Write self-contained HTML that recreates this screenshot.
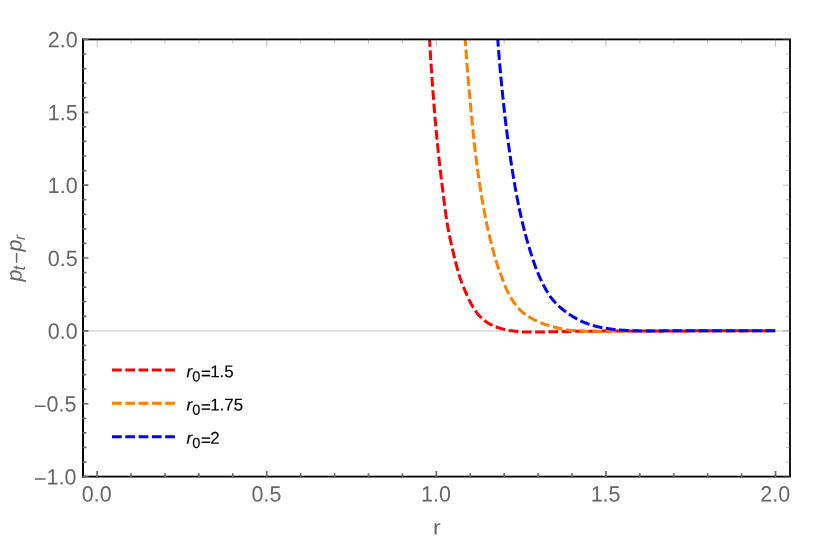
<!DOCTYPE html>
<html><head><meta charset="utf-8"><title>plot</title>
<style>
html,body{margin:0;padding:0;background:#fff;}
body{width:830px;height:540px;overflow:hidden;font-family:"Liberation Sans",sans-serif;}
svg{display:block;will-change:transform;}
text{font-family:"Liberation Sans",sans-serif;}
</style></head><body>
<svg width="830" height="540" viewBox="0 0 830 540">
<rect x="0" y="0" width="830" height="540" fill="#ffffff"/>
<defs><clipPath id="cp"><rect x="83.00" y="39.40" width="707.00" height="437.20"/></clipPath></defs>

<line x1="83.0" y1="330.87" x2="790.0" y2="330.87" stroke="#d0d0d0" stroke-width="1.3"/>
<g clip-path="url(#cp)" fill="none" stroke-width="3" stroke-linecap="butt" stroke-linejoin="round">
<path d="M775.20,330.87 L773.74,330.87 L772.27,330.87 L770.81,330.87 L769.35,330.87 L767.89,330.87 L766.42,330.87 L764.96,330.87 L763.50,330.87 L762.04,330.87 L760.57,330.87 L759.11,330.87 L757.65,330.87 L756.19,330.87 L754.72,330.87 L753.26,330.87 L751.80,330.87 L750.34,330.87 L748.87,330.87 L747.41,330.87 L745.95,330.87 L744.48,330.87 L743.02,330.87 L741.56,330.87 L740.10,330.87 L738.63,330.87 L737.17,330.87 L735.71,330.87 L734.25,330.87 L732.78,330.87 L731.32,330.87 L729.86,330.87 L728.40,330.87 L726.93,330.87 L725.47,330.87 L724.01,330.87 L722.55,330.87 L721.08,330.87 L719.62,330.87 L718.16,330.87 L716.70,330.87 L715.23,330.87 L713.77,330.87 L712.31,330.87 L710.84,330.87 L709.38,330.87 L707.92,330.87 L706.46,330.87 L704.99,330.87 L703.53,330.87 L702.07,330.87 L700.61,330.87 L699.14,330.87 L697.68,330.87 L696.22,330.87 L694.76,330.87 L693.29,330.87 L691.83,330.87 L690.37,330.87 L688.91,330.87 L687.44,330.88 L685.98,330.88 L684.52,330.88 L683.05,330.88 L681.59,330.88 L680.13,330.88 L678.67,330.89 L677.20,330.89 L675.74,330.89 L674.28,330.89 L672.82,330.90 L671.35,330.90 L669.89,330.90 L668.43,330.90 L666.97,330.91 L665.50,330.91 L664.04,330.91 L662.58,330.92 L661.12,330.92 L659.65,330.92 L658.19,330.93 L656.73,330.93 L655.27,330.93 L653.80,330.94 L652.34,330.94 L650.88,330.94 L649.41,330.95 L647.95,330.95 L646.49,330.96 L645.03,330.96 L643.56,330.96 L642.10,330.97 L640.64,330.97 L639.18,330.97 L637.71,330.98 L636.25,330.98 L634.79,330.99 L633.33,330.99 L631.86,330.99 L630.40,331.00 L628.94,331.00 L627.48,331.01 L626.01,331.01 L624.55,331.02 L623.09,331.02 L621.62,331.03 L620.16,331.03 L618.70,331.04 L617.24,331.04 L615.77,331.05 L614.31,331.05 L612.85,331.06 L611.39,331.06 L609.92,331.07 L608.46,331.08 L607.00,331.08 L605.54,331.09 L604.07,331.10 L602.61,331.10 L601.15,331.11 L599.69,331.12 L598.22,331.13 L596.76,331.14 L595.30,331.15 L593.84,331.15 L592.37,331.16 L590.91,331.17 L589.45,331.18 L587.99,331.19 L586.52,331.20 L585.06,331.22 L583.60,331.23 L582.13,331.24 L580.67,331.26 L579.21,331.27 L577.75,331.29 L576.28,331.31 L574.82,331.33 L573.36,331.35 L571.90,331.37 L570.43,331.39 L568.97,331.41 L567.51,331.44 L566.05,331.46 L564.58,331.48 L563.12,331.51 L561.66,331.53 L560.20,331.56 L558.74,331.59 L557.27,331.62 L555.81,331.66 L554.35,331.69 L552.89,331.73 L551.42,331.78 L549.96,331.84 L548.50,331.90 L547.04,331.96 L545.58,332.01 L544.12,332.05 L542.65,332.08 L541.19,332.10 L539.73,332.10 L538.27,332.10 L536.80,332.10 L535.34,332.10 L533.88,332.10 L532.41,332.10 L530.95,332.10 L529.49,332.10 L528.03,332.10 L526.57,332.09 L525.10,332.06 L523.64,331.99 L522.18,331.90 L520.72,331.78 L519.26,331.65 L517.80,331.50 L516.34,331.35 L514.89,331.19 L513.45,331.02 L512.00,330.83 L510.55,330.61 L509.10,330.36 L507.65,330.08 L506.21,329.78 L504.78,329.45 L503.36,329.10 L501.95,328.74 L500.55,328.36 L499.16,327.94 L497.77,327.48 L496.38,326.97 L494.99,326.43 L493.63,325.84 L492.28,325.22 L490.96,324.57 L489.67,323.89 L488.43,323.19 L487.21,322.45 L486.01,321.64 L484.83,320.77 L483.67,319.84 L482.53,318.86 L481.44,317.85 L480.38,316.81 L479.37,315.76 L478.40,314.69 L477.48,313.59 L476.60,312.45 L475.74,311.27 L474.90,310.05 L474.10,308.81 L473.32,307.54 L472.56,306.27 L471.83,305.00 L471.11,303.72 L470.42,302.45 L469.75,301.15 L469.10,299.84 L468.47,298.52 L467.86,297.19 L467.26,295.85 L466.66,294.51 L466.08,293.16 L465.51,291.81 L464.93,290.47 L464.36,289.12 L463.79,287.77 L463.23,286.42 L462.68,285.06 L462.14,283.70 L461.61,282.34 L461.10,280.96 L460.61,279.59 L460.13,278.21 L459.68,276.82 L459.25,275.43 L458.83,274.03 L458.42,272.62 L458.02,271.21 L457.63,269.80 L457.26,268.39 L456.88,266.97 L456.52,265.55 L456.16,264.13 L455.80,262.72 L455.45,261.30 L455.09,259.88 L454.74,258.46 L454.39,257.04 L454.04,255.62 L453.69,254.20 L453.35,252.77 L453.00,251.35 L452.67,249.93 L452.33,248.50 L452.00,247.07 L451.67,245.65 L451.34,244.22 L451.02,242.79 L450.70,241.36 L450.39,239.93 L450.09,238.50 L449.79,237.07 L449.49,235.63 L449.20,234.20 L448.92,232.76 L448.64,231.33 L448.37,229.89 L448.10,228.46 L447.85,227.02 L447.60,225.58 L447.36,224.14 L447.12,222.70 L446.89,221.26 L446.66,219.82 L446.44,218.37 L446.23,216.93 L446.01,215.48 L445.81,214.03 L445.60,212.59 L445.40,211.14 L445.20,209.69 L445.01,208.24 L444.82,206.79 L444.63,205.33 L444.44,203.88 L444.25,202.43 L444.07,200.98 L443.89,199.52 L443.71,198.07 L443.53,196.62 L443.35,195.17 L443.17,193.71 L442.99,192.26 L442.81,190.81 L442.63,189.36 L442.45,187.90 L442.27,186.45 L442.09,185.00 L441.91,183.55 L441.73,182.10 L441.56,180.65 L441.38,179.20 L441.21,177.74 L441.03,176.29 L440.86,174.84 L440.69,173.39 L440.52,171.93 L440.35,170.48 L440.18,169.03 L440.01,167.57 L439.85,166.12 L439.68,164.67 L439.52,163.21 L439.36,161.76 L439.20,160.31 L439.04,158.85 L438.88,157.40 L438.72,155.94 L438.57,154.49 L438.41,153.03 L438.26,151.58 L438.11,150.12 L437.96,148.67 L437.82,147.22 L437.67,145.76 L437.52,144.30 L437.38,142.85 L437.23,141.39 L437.09,139.94 L436.95,138.48 L436.80,137.03 L436.66,135.57 L436.52,134.11 L436.38,132.66 L436.25,131.20 L436.11,129.75 L435.98,128.29 L435.84,126.83 L435.71,125.38 L435.58,123.92 L435.45,122.46 L435.32,121.00 L435.19,119.55 L435.07,118.09 L434.94,116.63 L434.82,115.18 L434.70,113.72 L434.58,112.26 L434.46,110.80 L434.35,109.35 L434.23,107.89 L434.12,106.43 L434.00,104.97 L433.89,103.51 L433.78,102.06 L433.66,100.60 L433.55,99.14 L433.44,97.68 L433.33,96.22 L433.22,94.77 L433.11,93.31 L433.00,91.85 L432.89,90.39 L432.78,88.93 L432.67,87.47 L432.57,86.01 L432.46,84.56 L432.35,83.10 L432.25,81.64 L432.15,80.18 L432.04,78.72 L431.94,77.26 L431.84,75.80 L431.74,74.34 L431.64,72.88 L431.54,71.42 L431.44,69.96 L431.34,68.51 L431.25,67.05 L431.15,65.59 L431.06,64.13 L430.96,62.67 L430.87,61.21 L430.78,59.75 L430.69,58.29 L430.60,56.83 L430.51,55.37 L430.42,53.91 L430.33,52.45 L430.25,50.99 L430.16,49.53 L430.08,48.06 L430.00,46.60 L429.91,45.14 L429.83,43.68 L429.76,42.22 L429.68,40.76 L429.60,39.30 L428.81,24.32" stroke="#ff0000" stroke-dasharray="9.751 3.550" stroke-dashoffset="9.10"/>
<path d="M775.20,330.87 L773.85,330.87 L772.50,330.87 L771.15,330.87 L769.80,330.87 L768.44,330.87 L767.09,330.87 L765.74,330.87 L764.39,330.87 L763.04,330.87 L761.69,330.87 L760.34,330.87 L758.99,330.87 L757.64,330.87 L756.29,330.87 L754.93,330.87 L753.58,330.87 L752.23,330.87 L750.88,330.87 L749.53,330.87 L748.18,330.87 L746.83,330.87 L745.48,330.87 L744.13,330.87 L742.78,330.87 L741.42,330.87 L740.07,330.87 L738.72,330.87 L737.37,330.87 L736.02,330.87 L734.67,330.88 L733.32,330.88 L731.97,330.88 L730.62,330.88 L729.26,330.88 L727.91,330.88 L726.56,330.88 L725.21,330.88 L723.86,330.88 L722.51,330.88 L721.16,330.88 L719.81,330.88 L718.46,330.88 L717.11,330.88 L715.75,330.88 L714.40,330.88 L713.05,330.88 L711.70,330.88 L710.35,330.88 L709.00,330.88 L707.65,330.88 L706.30,330.89 L704.95,330.89 L703.60,330.89 L702.24,330.89 L700.89,330.89 L699.54,330.89 L698.19,330.89 L696.84,330.89 L695.49,330.89 L694.14,330.89 L692.79,330.89 L691.44,330.89 L690.09,330.89 L688.73,330.89 L687.38,330.90 L686.03,330.90 L684.68,330.90 L683.33,330.90 L681.98,330.90 L680.63,330.90 L679.28,330.90 L677.93,330.90 L676.58,330.90 L675.22,330.91 L673.87,330.91 L672.52,330.91 L671.17,330.92 L669.82,330.92 L668.47,330.93 L667.12,330.94 L665.77,330.94 L664.42,330.95 L663.06,330.96 L661.71,330.97 L660.36,330.97 L659.01,330.98 L657.66,330.99 L656.31,331.00 L654.96,331.01 L653.61,331.02 L652.26,331.03 L650.91,331.04 L649.56,331.05 L648.20,331.06 L646.85,331.07 L645.50,331.09 L644.15,331.10 L642.80,331.11 L641.45,331.12 L640.10,331.13 L638.75,331.14 L637.40,331.15 L636.05,331.16 L634.69,331.18 L633.34,331.19 L631.99,331.20 L630.64,331.21 L629.29,331.22 L627.94,331.23 L626.59,331.24 L625.24,331.25 L623.89,331.26 L622.54,331.27 L621.18,331.28 L619.83,331.29 L618.48,331.30 L617.13,331.31 L615.78,331.32 L614.43,331.33 L613.08,331.34 L611.73,331.35 L610.38,331.36 L609.03,331.37 L607.67,331.38 L606.32,331.39 L604.97,331.40 L603.62,331.40 L602.27,331.40 L600.92,331.40 L599.57,331.39 L598.22,331.38 L596.87,331.37 L595.51,331.35 L594.16,331.33 L592.81,331.31 L591.46,331.29 L590.11,331.26 L588.76,331.24 L587.41,331.21 L586.06,331.18 L584.71,331.14 L583.36,331.10 L582.00,331.05 L580.65,330.99 L579.30,330.93 L577.95,330.85 L576.60,330.78 L575.25,330.69 L573.90,330.60 L572.56,330.50 L571.22,330.39 L569.88,330.26 L568.54,330.09 L567.21,329.89 L565.87,329.65 L564.54,329.40 L563.21,329.13 L561.89,328.85 L560.56,328.55 L559.24,328.26 L557.93,327.97 L556.61,327.67 L555.30,327.35 L553.98,327.02 L552.67,326.68 L551.37,326.32 L550.07,325.94 L548.77,325.55 L547.48,325.15 L546.20,324.73 L544.93,324.31 L543.65,323.86 L542.39,323.39 L541.12,322.90 L539.86,322.38 L538.61,321.85 L537.37,321.30 L536.14,320.72 L534.93,320.13 L533.73,319.53 L532.55,318.90 L531.37,318.25 L530.19,317.57 L529.02,316.86 L527.86,316.13 L526.72,315.37 L525.60,314.59 L524.51,313.79 L523.46,312.96 L522.44,312.11 L521.46,311.23 L520.49,310.31 L519.55,309.34 L518.62,308.34 L517.72,307.32 L516.84,306.26 L515.99,305.19 L515.16,304.10 L514.36,303.01 L513.58,301.91 L512.83,300.81 L512.10,299.68 L511.39,298.53 L510.70,297.37 L510.03,296.19 L509.38,294.99 L508.75,293.79 L508.13,292.58 L507.53,291.36 L506.95,290.14 L506.39,288.92 L505.85,287.69 L505.33,286.45 L504.83,285.19 L504.34,283.93 L503.85,282.67 L503.38,281.40 L502.91,280.13 L502.45,278.86 L501.98,277.59 L501.51,276.32 L501.03,275.05 L500.55,273.79 L500.07,272.53 L499.59,271.26 L499.11,269.99 L498.65,268.72 L498.19,267.45 L497.74,266.18 L497.31,264.90 L496.89,263.62 L496.49,262.33 L496.10,261.04 L495.72,259.75 L495.33,258.46 L494.96,257.16 L494.58,255.86 L494.22,254.57 L493.85,253.26 L493.49,251.96 L493.14,250.66 L492.79,249.35 L492.44,248.04 L492.10,246.73 L491.76,245.42 L491.43,244.11 L491.10,242.80 L490.77,241.49 L490.45,240.17 L490.13,238.85 L489.81,237.54 L489.50,236.22 L489.20,234.90 L488.89,233.59 L488.59,232.27 L488.30,230.95 L488.00,229.63 L487.71,228.31 L487.43,226.99 L487.14,225.67 L486.86,224.35 L486.59,223.03 L486.31,221.71 L486.04,220.39 L485.77,219.07 L485.51,217.74 L485.25,216.42 L484.99,215.09 L484.73,213.76 L484.48,212.44 L484.23,211.11 L483.98,209.78 L483.73,208.45 L483.49,207.12 L483.25,205.79 L483.01,204.46 L482.78,203.13 L482.55,201.79 L482.32,200.46 L482.09,199.13 L481.86,197.80 L481.64,196.46 L481.42,195.13 L481.20,193.79 L480.99,192.46 L480.77,191.13 L480.56,189.79 L480.35,188.46 L480.14,187.12 L479.94,185.79 L479.73,184.46 L479.53,183.12 L479.33,181.78 L479.13,180.45 L478.93,179.11 L478.74,177.77 L478.55,176.44 L478.36,175.10 L478.17,173.76 L477.98,172.42 L477.79,171.08 L477.61,169.75 L477.43,168.41 L477.25,167.07 L477.07,165.73 L476.89,164.39 L476.72,163.05 L476.54,161.71 L476.37,160.37 L476.20,159.03 L476.03,157.69 L475.87,156.34 L475.70,155.00 L475.54,153.66 L475.38,152.32 L475.22,150.98 L475.06,149.64 L474.90,148.30 L474.75,146.96 L474.59,145.61 L474.44,144.27 L474.29,142.93 L474.14,141.59 L473.99,140.24 L473.84,138.90 L473.70,137.56 L473.55,136.21 L473.41,134.87 L473.27,133.53 L473.13,132.18 L472.99,130.84 L472.85,129.49 L472.71,128.15 L472.58,126.81 L472.44,125.46 L472.31,124.12 L472.17,122.77 L472.04,121.43 L471.91,120.08 L471.78,118.74 L471.65,117.39 L471.53,116.05 L471.40,114.70 L471.27,113.36 L471.15,112.01 L471.02,110.67 L470.90,109.32 L470.78,107.98 L470.65,106.63 L470.53,105.29 L470.41,103.94 L470.28,102.60 L470.16,101.25 L470.04,99.91 L469.92,98.56 L469.80,97.21 L469.68,95.87 L469.56,94.52 L469.44,93.18 L469.32,91.83 L469.21,90.49 L469.09,89.14 L468.97,87.79 L468.85,86.45 L468.74,85.10 L468.62,83.76 L468.51,82.41 L468.39,81.06 L468.28,79.72 L468.17,78.37 L468.06,77.03 L467.94,75.68 L467.83,74.33 L467.72,72.99 L467.61,71.64 L467.50,70.29 L467.40,68.95 L467.29,67.60 L467.18,66.25 L467.07,64.90 L466.97,63.56 L466.86,62.21 L466.76,60.86 L466.66,59.52 L466.55,58.17 L466.45,56.82 L466.35,55.47 L466.25,54.13 L466.15,52.78 L466.05,51.43 L465.95,50.08 L465.86,48.74 L465.76,47.39 L465.66,46.04 L465.57,44.69 L465.48,43.34 L465.38,42.00 L465.29,40.65 L465.20,39.30 L464.19,24.33" stroke="#ff8000" stroke-dasharray="9.757 3.552" stroke-dashoffset="0.00"/>
<path d="M775.20,330.87 L773.95,330.87 L772.70,330.87 L771.44,330.87 L770.19,330.87 L768.94,330.87 L767.69,330.87 L766.44,330.87 L765.18,330.87 L763.93,330.87 L762.68,330.87 L761.43,330.87 L760.18,330.87 L758.92,330.87 L757.67,330.87 L756.42,330.87 L755.17,330.87 L753.92,330.87 L752.66,330.87 L751.41,330.87 L750.16,330.87 L748.91,330.87 L747.66,330.87 L746.41,330.87 L745.15,330.87 L743.90,330.87 L742.65,330.87 L741.40,330.87 L740.15,330.87 L738.89,330.87 L737.64,330.87 L736.39,330.87 L735.14,330.87 L733.89,330.87 L732.63,330.87 L731.38,330.87 L730.13,330.87 L728.88,330.87 L727.63,330.87 L726.37,330.87 L725.12,330.87 L723.87,330.87 L722.62,330.87 L721.37,330.87 L720.11,330.87 L718.86,330.87 L717.61,330.87 L716.36,330.87 L715.11,330.87 L713.85,330.87 L712.60,330.87 L711.35,330.87 L710.10,330.87 L708.85,330.87 L707.59,330.87 L706.34,330.87 L705.09,330.87 L703.84,330.87 L702.59,330.87 L701.33,330.87 L700.08,330.87 L698.83,330.87 L697.58,330.87 L696.33,330.87 L695.07,330.87 L693.82,330.87 L692.57,330.87 L691.32,330.87 L690.07,330.87 L688.82,330.87 L687.56,330.87 L686.31,330.87 L685.06,330.87 L683.81,330.87 L682.56,330.87 L681.30,330.87 L680.05,330.87 L678.80,330.87 L677.55,330.87 L676.30,330.87 L675.04,330.87 L673.79,330.87 L672.54,330.87 L671.29,330.87 L670.04,330.87 L668.78,330.87 L667.53,330.87 L666.28,330.87 L665.03,330.87 L663.78,330.87 L662.52,330.88 L661.27,330.88 L660.02,330.88 L658.77,330.88 L657.52,330.88 L656.26,330.88 L655.01,330.89 L653.76,330.89 L652.51,330.89 L651.26,330.89 L650.00,330.89 L648.75,330.90 L647.50,330.90 L646.25,330.90 L645.00,330.90 L643.74,330.90 L642.49,330.90 L641.24,330.90 L639.99,330.89 L638.74,330.87 L637.49,330.85 L636.23,330.82 L634.98,330.78 L633.73,330.73 L632.48,330.69 L631.23,330.63 L629.98,330.58 L628.72,330.52 L627.47,330.46 L626.23,330.41 L624.98,330.34 L623.73,330.27 L622.48,330.19 L621.23,330.10 L619.98,330.00 L618.73,329.89 L617.48,329.78 L616.23,329.65 L614.99,329.53 L613.74,329.39 L612.50,329.26 L611.26,329.11 L610.02,328.96 L608.78,328.79 L607.54,328.60 L606.30,328.41 L605.06,328.20 L603.82,327.98 L602.59,327.75 L601.36,327.51 L600.13,327.26 L598.91,327.00 L597.70,326.73 L596.48,326.44 L595.27,326.13 L594.06,325.80 L592.85,325.46 L591.64,325.09 L590.44,324.70 L589.25,324.30 L588.07,323.89 L586.89,323.46 L585.73,323.03 L584.57,322.57 L583.42,322.09 L582.28,321.59 L581.14,321.06 L580.01,320.51 L578.89,319.94 L577.77,319.36 L576.66,318.76 L575.56,318.14 L574.48,317.52 L573.40,316.89 L572.33,316.26 L571.27,315.60 L570.21,314.93 L569.16,314.24 L568.12,313.53 L567.09,312.81 L566.07,312.07 L565.06,311.32 L564.06,310.55 L563.09,309.78 L562.12,308.99 L561.18,308.19 L560.23,307.36 L559.30,306.53 L558.38,305.67 L557.46,304.80 L556.57,303.91 L555.69,303.00 L554.83,302.09 L553.99,301.16 L553.17,300.21 L552.39,299.26 L551.62,298.29 L550.87,297.29 L550.14,296.27 L549.43,295.23 L548.73,294.18 L548.05,293.12 L547.39,292.05 L546.74,290.98 L546.10,289.90 L545.48,288.82 L544.87,287.73 L544.27,286.63 L543.69,285.53 L543.11,284.41 L542.55,283.29 L542.00,282.16 L541.45,281.03 L540.92,279.89 L540.40,278.75 L539.88,277.61 L539.37,276.47 L538.88,275.32 L538.39,274.17 L537.90,273.02 L537.43,271.86 L536.96,270.69 L536.50,269.53 L536.06,268.36 L535.62,267.18 L535.18,266.01 L534.76,264.83 L534.35,263.65 L533.95,262.47 L533.54,261.28 L533.15,260.10 L532.75,258.91 L532.36,257.72 L531.97,256.53 L531.58,255.34 L531.20,254.15 L530.82,252.96 L530.45,251.76 L530.07,250.56 L529.70,249.37 L529.34,248.17 L528.98,246.97 L528.62,245.76 L528.26,244.56 L527.91,243.36 L527.56,242.15 L527.21,240.95 L526.87,239.74 L526.53,238.53 L526.20,237.33 L525.87,236.12 L525.54,234.91 L525.22,233.70 L524.90,232.49 L524.58,231.27 L524.27,230.06 L523.96,228.85 L523.65,227.64 L523.35,226.42 L523.05,225.21 L522.76,224.00 L522.47,222.78 L522.18,221.57 L521.89,220.35 L521.61,219.13 L521.33,217.91 L521.05,216.69 L520.78,215.47 L520.51,214.25 L520.24,213.02 L519.97,211.80 L519.71,210.57 L519.45,209.35 L519.19,208.12 L518.93,206.90 L518.68,205.67 L518.43,204.44 L518.18,203.21 L517.93,201.98 L517.69,200.75 L517.45,199.52 L517.21,198.29 L516.97,197.06 L516.74,195.83 L516.50,194.60 L516.27,193.37 L516.04,192.14 L515.82,190.91 L515.59,189.68 L515.37,188.45 L515.15,187.21 L514.93,185.98 L514.71,184.75 L514.50,183.52 L514.28,182.28 L514.07,181.05 L513.86,179.82 L513.66,178.58 L513.45,177.35 L513.25,176.11 L513.05,174.88 L512.85,173.64 L512.65,172.40 L512.45,171.17 L512.26,169.93 L512.06,168.69 L511.87,167.46 L511.68,166.22 L511.49,164.98 L511.30,163.74 L511.11,162.50 L510.93,161.26 L510.75,160.02 L510.56,158.79 L510.38,157.55 L510.20,156.31 L510.02,155.07 L509.84,153.83 L509.67,152.59 L509.49,151.35 L509.32,150.11 L509.14,148.87 L508.97,147.63 L508.79,146.39 L508.62,145.15 L508.45,143.91 L508.28,142.67 L508.11,141.43 L507.94,140.19 L507.77,138.95 L507.61,137.71 L507.44,136.47 L507.28,135.23 L507.11,133.98 L506.95,132.74 L506.79,131.50 L506.63,130.26 L506.47,129.02 L506.31,127.77 L506.16,126.53 L506.00,125.29 L505.85,124.05 L505.70,122.80 L505.55,121.56 L505.40,120.32 L505.25,119.07 L505.11,117.83 L504.97,116.59 L504.83,115.34 L504.69,114.10 L504.55,112.86 L504.41,111.61 L504.28,110.37 L504.14,109.12 L504.01,107.88 L503.88,106.63 L503.74,105.39 L503.61,104.15 L503.48,102.90 L503.35,101.66 L503.22,100.41 L503.09,99.17 L502.96,97.92 L502.83,96.68 L502.70,95.43 L502.58,94.19 L502.45,92.94 L502.32,91.70 L502.20,90.45 L502.07,89.20 L501.95,87.96 L501.82,86.71 L501.70,85.47 L501.58,84.22 L501.46,82.98 L501.34,81.73 L501.22,80.48 L501.10,79.24 L500.98,77.99 L500.86,76.74 L500.75,75.50 L500.63,74.25 L500.52,73.00 L500.40,71.76 L500.29,70.51 L500.18,69.26 L500.07,68.02 L499.96,66.77 L499.85,65.52 L499.74,64.27 L499.63,63.03 L499.53,61.78 L499.42,60.53 L499.32,59.28 L499.21,58.03 L499.11,56.79 L499.01,55.54 L498.91,54.29 L498.81,53.04 L498.71,51.79 L498.62,50.54 L498.52,49.30 L498.43,48.05 L498.33,46.80 L498.24,45.55 L498.15,44.30 L498.06,43.05 L497.97,41.80 L497.89,40.55 L497.80,39.30 L496.77,24.34" stroke="#0000ff" stroke-dasharray="9.756 3.552" stroke-dashoffset="0.00"/>
</g>
<rect x="83.0" y="39.4" width="707.0" height="437.20000000000005" fill="none" stroke="#000" stroke-width="1.8"/>
<line x1="83.0" y1="38.5" x2="83.0" y2="477.5" stroke="#000" stroke-width="2.0"/>
<path d="M97.15,39.10 V46.65 M131.07,39.10 V43.60 M164.99,39.10 V43.60 M198.91,39.10 V43.60 M232.83,39.10 V43.60 M266.75,39.10 V46.65 M300.67,39.10 V43.60 M334.59,39.10 V43.60 M368.51,39.10 V43.60 M402.43,39.10 V43.60 M436.35,39.10 V46.65 M470.27,39.10 V43.60 M504.19,39.10 V43.60 M538.11,39.10 V43.60 M572.03,39.10 V43.60 M605.95,39.10 V46.65 M639.87,39.10 V43.60 M673.79,39.10 V43.60 M707.71,39.10 V43.60 M741.63,39.10 V43.60 M775.55,39.10 V46.65 M790.30,476.60 H782.75 M790.30,462.03 H785.80 M790.30,447.45 H785.80 M790.30,432.88 H785.80 M790.30,418.31 H785.80 M790.30,403.74 H782.75 M790.30,389.16 H785.80 M790.30,374.59 H785.80 M790.30,360.02 H785.80 M790.30,345.44 H785.80 M790.30,330.87 H782.75 M790.30,316.30 H785.80 M790.30,301.72 H785.80 M790.30,287.15 H785.80 M790.30,272.58 H785.80 M790.30,258.01 H782.75 M790.30,243.43 H785.80 M790.30,228.86 H785.80 M790.30,214.29 H785.80 M790.30,199.71 H785.80 M790.30,185.14 H782.75 M790.30,170.57 H785.80 M790.30,155.99 H785.80 M790.30,141.42 H785.80 M790.30,126.85 H785.80 M790.30,112.28 H782.75 M790.30,97.70 H785.80 M790.30,83.13 H785.80 M790.30,68.56 H785.80 M790.30,53.98 H785.80 M790.30,39.41 H782.75" stroke="#666" stroke-width="0.42" fill="none"/>
<path d="M97.15,477.50 V471.00 M131.07,477.50 V473.20 M164.99,477.50 V473.20 M198.91,477.50 V473.20 M232.83,477.50 V473.20 M266.75,477.50 V471.00 M300.67,477.50 V473.20 M334.59,477.50 V473.20 M368.51,477.50 V473.20 M402.43,477.50 V473.20 M436.35,477.50 V471.00 M470.27,477.50 V473.20 M504.19,477.50 V473.20 M538.11,477.50 V473.20 M572.03,477.50 V473.20 M605.95,477.50 V471.00 M639.87,477.50 V473.20 M673.79,477.50 V473.20 M707.71,477.50 V473.20 M741.63,477.50 V473.20 M775.55,477.50 V471.00 M82.70,476.60 H88.40 M82.70,462.03 H86.30 M82.70,447.45 H86.30 M82.70,432.88 H86.30 M82.70,418.31 H86.30 M82.70,403.74 H88.40 M82.70,389.16 H86.30 M82.70,374.59 H86.30 M82.70,360.02 H86.30 M82.70,345.44 H86.30 M82.70,330.87 H88.40 M82.70,316.30 H86.30 M82.70,301.72 H86.30 M82.70,287.15 H86.30 M82.70,272.58 H86.30 M82.70,258.01 H88.40 M82.70,243.43 H86.30 M82.70,228.86 H86.30 M82.70,214.29 H86.30 M82.70,199.71 H86.30 M82.70,185.14 H88.40 M82.70,170.57 H86.30 M82.70,155.99 H86.30 M82.70,141.42 H86.30 M82.70,126.85 H86.30 M82.70,112.28 H88.40 M82.70,97.70 H86.30 M82.70,83.13 H86.30 M82.70,68.56 H86.30 M82.70,53.98 H86.30 M82.70,39.41 H88.40" stroke="#6a6a6a" stroke-width="1.7" fill="none"/>
<g font-size="21.5" fill="#666666">
<text transform="translate(77.6,484.50) rotate(0.03) scale(1,1.025)" text-anchor="end"><tspan dy="1.8" dx="-1.2">−</tspan><tspan dy="-1.8">1.0</tspan></text>
<text transform="translate(77.6,411.63) rotate(0.03) scale(1,1.025)" text-anchor="end"><tspan dy="1.8" dx="-1.2">−</tspan><tspan dy="-1.8">0.5</tspan></text>
<text transform="translate(77.6,338.77) rotate(0.03) scale(1,1.025)" text-anchor="end">0.0</text>
<text transform="translate(77.6,265.91) rotate(0.03) scale(1,1.025)" text-anchor="end">0.5</text>
<text transform="translate(77.6,193.04) rotate(0.03) scale(1,1.025)" text-anchor="end">1.0</text>
<text transform="translate(77.6,120.18) rotate(0.03) scale(1,1.025)" text-anchor="end">1.5</text>
<text transform="translate(77.6,47.31) rotate(0.03) scale(1,1.025)" text-anchor="end">2.0</text>
<text transform="translate(96.80,501.4) rotate(0.03) scale(1,1.025)" text-anchor="middle">0.0</text>
<text transform="translate(266.40,501.4) rotate(0.03) scale(1,1.025)" text-anchor="middle">0.5</text>
<text transform="translate(436.00,501.4) rotate(0.03) scale(1,1.025)" text-anchor="middle">1.0</text>
<text transform="translate(605.60,501.4) rotate(0.03) scale(1,1.025)" text-anchor="middle">1.5</text>
<text transform="translate(775.20,501.4) rotate(0.03) scale(1,1.025)" text-anchor="middle">2.0</text>
<text transform="translate(436.9,534.55) rotate(0.03) scale(1,0.92)" font-size="23" text-anchor="middle">r</text>
<text transform="translate(21.60,281.60) rotate(-89.97) scale(1,0.98)" font-size="21.5" font-style="italic">p</text>
<text transform="translate(25.00,270.60) rotate(-89.97) scale(1,1.025)" font-size="17" font-style="italic">t</text>
<text transform="translate(23.35,263.70) rotate(-89.97) scale(1,1.0)" font-size="20">−</text>
<text transform="translate(21.60,251.55) rotate(-89.97) scale(1,0.98)" font-size="21.5" font-style="italic">p</text>
<text transform="translate(25.00,240.10) rotate(-89.97) scale(1,1.025)" font-size="15.5" font-style="italic">r</text>
</g>
<g fill="none" stroke-width="3" stroke-dasharray="9.75 3.55">
<line x1="112" y1="369.9" x2="175.2" y2="369.9" stroke="#ff0000"/>
<line x1="112" y1="403.3" x2="175.2" y2="403.3" stroke="#ff8000"/>
<line x1="112" y1="436.7" x2="175.2" y2="436.7" stroke="#0000ff"/>
</g>
<g font-size="16.9" fill="#000" stroke="#000" stroke-width="0.15">
<text transform="translate(186.6,377.25) rotate(0.03) scale(1,1.01)"><tspan font-style="italic">r</tspan><tspan font-size="14.5" dy="4.2">0</tspan><tspan dy="-2.4" dx="0.7">=</tspan><tspan dy="-1.8" dx="-0.7">1.5</tspan></text>
<text transform="translate(186.6,410.55) rotate(0.03) scale(1,1.01)"><tspan font-style="italic">r</tspan><tspan font-size="14.5" dy="4.2">0</tspan><tspan dy="-2.4" dx="0.7">=</tspan><tspan dy="-1.8" dx="-0.7">1.75</tspan></text>
<text transform="translate(186.6,443.85) rotate(0.03) scale(1,1.01)"><tspan font-style="italic">r</tspan><tspan font-size="14.5" dy="4.2">0</tspan><tspan dy="-2.4" dx="0.7">=</tspan><tspan dy="-1.8" dx="-0.7">2</tspan></text>
</g>
</svg></body></html>
